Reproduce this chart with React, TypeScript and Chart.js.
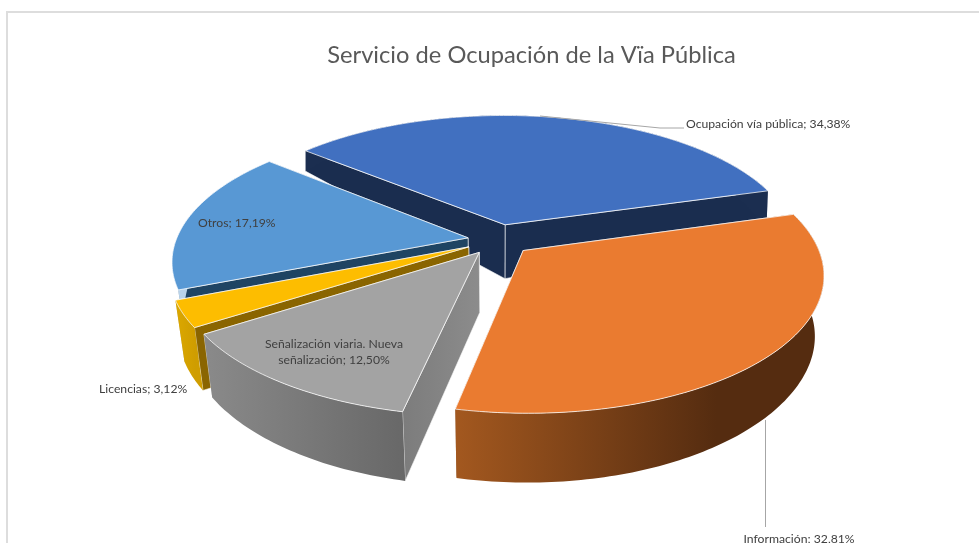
import React, { useEffect, useRef } from "react";
import { Chart, registerables } from "chart.js";

Chart.register(...registerables);

const categories = ["Ocupación vía pública", "Información", "Señalización viaria. Nueva señalización", "Licencias", "Otros"];
const values = [34.38, 32.81, 12.5, 3.12, 17.19];
const topColors = ["#4170c0", "#ea7b30", "#a3a3a3", "#fdbd00", "#5898d4"];
const explosion = [30, 29, 28, 28, 26];
const drawOrder = [0, 4, 3, 2, 1];
const FONT = "Lato, 'Open Sans', sans-serif";

// projection of the pie disc
const CX = 498, CY = 240, RX = 292, RY = 132, PERSP = 0.165, UNIT = 250;

type P = { x: number; y: number; w: number };
function proj(X: number, Y: number): P {
  const s = 1 / (1 + PERSP * Y);
  return { x: CX + RX * X * s, y: CY - RY * Y * s, w: Y };
}
function depth(Y: number) {
  return Y > 0 ? Math.max(60 - 52 * Y, 14) : 60 + 8 * Y * Y;
}
function lower(p: P): P {
  const m = 0.028 * Math.min(1, Math.max(0, (0.5 - p.w) / 0.5));
  return { x: p.x - (p.x - CX) * m, y: p.y + depth(p.w), w: p.w };
}
function poly(ctx: CanvasRenderingContext2D, pts: P[]) {
  ctx.beginPath();
  pts.forEach((p, i) => (i ? ctx.lineTo(p.x, p.y) : ctx.moveTo(p.x, p.y)));
  ctx.closePath();
}

const wallStyle: Record<number, [string, string]> = {
  0: ["#1b2e50", "#1b2e50"],
  1: ["#a3581f", "#552c10"],
  2: ["#8a8a8a", "#686868"],
  3: ["#dca800", "#cf9d00"],
  4: ["#b9d3ea", "#b9d3ea"],
};
const cutStyle: Record<number, [string, string]> = {
  0: ["#1a2d4f", "#1a2d4f"],
  1: ["#5a3012", "#5a3012"],
  2: ["#7c7c7c", "#8c8c8c"],
  3: ["#8a6500", "#8a6500"],
  4: ["#1f4463", "#1f4463"],
};

const pie3d = {
  id: "pie3d",
  beforeDatasetsDraw(chart: any) {
    const ctx: CanvasRenderingContext2D = chart.ctx;
    const arcs = chart.getDatasetMeta(0).data;
    ctx.save();
    const fill = (a: P, b: P, cols: [string, string]) => {
      const g = ctx.createLinearGradient(Math.min(a.x, b.x), 0, Math.max(a.x, b.x) + 1, 0);
      g.addColorStop(0, cols[0]);
      g.addColorStop(1, cols[1]);
      return g;
    };
    for (const i of drawOrder) {
      const arc = arcs[i];
      const a0 = arc.startAngle + Math.PI / 2;
      const a1 = arc.endAngle + Math.PI / 2;
      const mid = (a0 + a1) / 2;
      const e = arc.options.offset / UNIT;
      const ox = e * Math.sin(mid), oy = e * Math.cos(mid);
      const apex = proj(ox, oy);
      const rim: P[] = [];
      const n = Math.max(4, Math.ceil(((a1 - a0) * 180) / Math.PI));
      for (let k = 0; k <= n; k++) {
        const t = a0 + ((a1 - a0) * k) / n;
        rim.push(proj(ox + Math.sin(t), oy + Math.cos(t)));
      }
      const bottom = rim.map(lower);
      const apexB = lower(apex);
      const first = rim[0], last = rim[rim.length - 1];
      ctx.lineJoin = "round";
      const edge = "rgba(255,255,255,0.75)";

      // radial cut faces (behind the wall); the clockwise-end face is the hidden one
      ctx.strokeStyle = edge;
      ctx.lineWidth = 0.8;
      poly(ctx, [apex, last, lower(last), apexB]);
      ctx.fillStyle = fill(apex, last, cutStyle[i]);
      ctx.fill();
      ctx.stroke();
      poly(ctx, [apex, first, lower(first), apexB]);
      ctx.fillStyle = fill(apex, first, cutStyle[i]);
      ctx.fill();
      ctx.stroke();

      // outer wall
      let minX = Infinity, maxX = -Infinity;
      rim.forEach((p) => { minX = Math.min(minX, p.x); maxX = Math.max(maxX, p.x); });
      const wallEndX = i === 1 ? minX + 260 : maxX;
      poly(ctx, [...rim, ...bottom.slice().reverse()]);
      ctx.fillStyle = fill({ x: minX, y: 0, w: 0 }, { x: wallEndX, y: 0, w: 0 }, wallStyle[i]);
      ctx.fill();

      // top face
      poly(ctx, [apex, ...rim]);
      ctx.fillStyle = arc.options.backgroundColor;
      ctx.fill();
      ctx.strokeStyle = edge;
      ctx.lineWidth = 1;
      ctx.stroke();
    }
    ctx.restore();
    return false;
  },
};

const overlay = {
  id: "overlay",
  afterDraw(chart: any) {
    const ctx: CanvasRenderingContext2D = chart.ctx;
    ctx.save();
    // frame
    ctx.strokeStyle = "#dddddd";
    ctx.lineWidth = 2;
    ctx.beginPath();
    ctx.moveTo(7, 543);
    ctx.lineTo(7, 12);
    ctx.lineTo(979, 12);
    ctx.stroke();
    // leader lines
    ctx.strokeStyle = "#a6a6a6";
    ctx.lineWidth = 1;
    ctx.beginPath();
    ctx.moveTo(540, 116);
    ctx.lineTo(660, 128);
    ctx.lineTo(684, 128);
    ctx.moveTo(765.5, 420);
    ctx.lineTo(765.5, 527);
    ctx.stroke();
    // labels
    ctx.font = `12.2px ${FONT}`;
    ctx.fillStyle = "#404040";
    ctx.textBaseline = "middle";
    ctx.textAlign = "left";
    ctx.fillText(`${categories[0]}; 34,38%`, 686, 124);
    ctx.fillText(`${categories[4]}; 17,19%`, 198, 223);
    ctx.fillText(`${categories[3]}; 3,12%`, 99, 389);
    ctx.textAlign = "center";
    ctx.fillText("Señalización viaria. Nueva", 334, 344);
    ctx.fillText("señalización; 12,50%", 334, 360);
    ctx.fillText(`${categories[1]}; 32,81%`, 799, 539);
    ctx.restore();
  },
};

export default function App() {
  const ref = useRef<HTMLCanvasElement>(null);
  useEffect(() => {
    const chart = new Chart(ref.current as HTMLCanvasElement, {
      type: "pie",
      data: {
        labels: categories,
        datasets: [{ data: values, backgroundColor: topColors, offset: explosion, borderWidth: 0 }],
      },
      options: {
        responsive: false,
        animation: false,
        rotation: -50,
        layout: { padding: { left: 84 } },
        plugins: {
          legend: { display: false },
          tooltip: { enabled: false },
          title: {
            display: true,
            text: "Servicio de Ocupación de la Vïa Pública",
            color: "#595959",
            font: { family: FONT, size: 23.7, weight: "normal" },
            padding: { top: 41, bottom: 4 },
          },
        },
      },
      plugins: [pie3d, overlay],
    } as any);
    return () => chart.destroy();
  }, []);
  return (
    <div style={{ position: "absolute", left: 0, top: 0, width: 979, height: 543, background: "#fff" }}>
      <canvas ref={ref} width={979} height={543} style={{ display: "block" }} />
    </div>
  );
}
